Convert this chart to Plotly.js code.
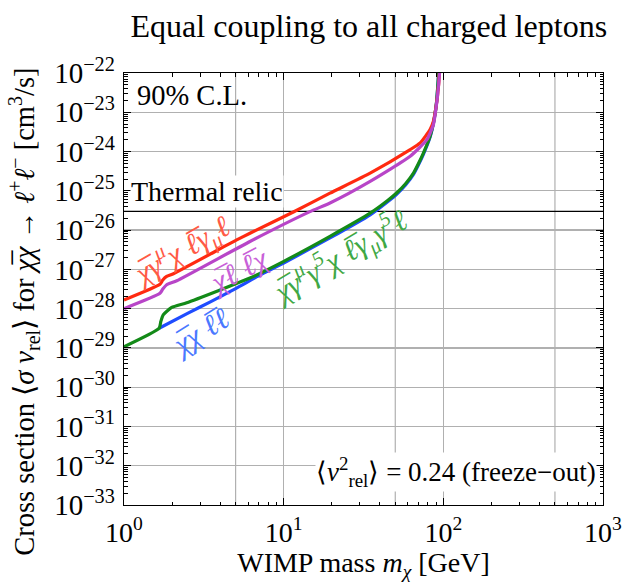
<!DOCTYPE html>
<html>
<head>
<meta charset="utf-8">
<script src="https://cdn.plot.ly/plotly-3.0.1.min.js"></script>
<style>html,body{margin:0;padding:0;background:#fff;}#chart{width:622px;height:582px;}</style>
</head>
<body>
<div id="chart"></div>
<script>
// WIMP mass [GeV] and cross sections [cm^3/s]
const massVector = [1.00, 1.68, 1.75, 1.85, 2.04, 5.08, 6.15, 11.5, 19.5, 34.8, 62.0, 71.6, 82.6, 86.7, 89.5, 92.1, 94.6, 95.3];
const sigmaVector = [1.66e-28, 4.17e-28, 5.37e-28, 6.61e-28, 7.76e-28, 5.62e-27, 8.32e-27, 2.88e-26, 8.71e-26, 2.82e-25, 1.12e-24, 1.66e-24, 3.63e-24, 5.89e-24, 1.17e-23, 2.82e-23, 9.77e-23, 2.24e-22];

const massScalarT = [1.00, 1.68, 1.75, 1.85, 2.14, 6.15, 14.6, 19.5, 34.8, 62.0, 78.9, 86.7, 89.5, 92.1, 94.6, 95.3];
const sigmaScalarT = [1.00e-28, 2.45e-28, 3.16e-28, 4.07e-28, 5.13e-28, 5.13e-27, 2.95e-26, 4.90e-26, 1.74e-25, 7.59e-25, 2.00e-24, 4.90e-24, 1.10e-23, 2.75e-23, 9.77e-23, 2.24e-22];

const massAxial = [1.00, 1.66, 1.70, 1.76, 1.99, 2.47, 6.15, 9.95, 19.5, 34.8, 45.0, 51.2, 58.0, 65.0, 70.0, 75.0, 82.6, 86.7, 89.5, 91.0, 93.5, 94.3];
const sigmaAxial = [1.07e-29, 3.16e-29, 4.68e-29, 6.92e-29, 1.07e-28, 1.41e-28, 6.03e-28, 1.58e-27, 6.92e-27, 2.69e-26, 5.75e-26, 8.91e-26, 1.51e-25, 2.82e-25, 5.01e-25, 9.12e-25, 2.45e-24, 5.37e-24, 1.17e-23, 2.09e-23, 1.00e-22, 2.24e-22];

const massScalar = [1.66, 2.5, 3.5, 5.0, 7.0, 10.0, 19.5, 34.8, 45.0, 51.2, 58.0, 65.0, 70.0, 75.0, 82.6, 86.7, 89.5, 91.0, 93.5, 94.3];
const sigmaScalar = [3.16e-29, 7.59e-29, 1.51e-28, 3.24e-28, 6.92e-28, 1.45e-27, 6.31e-27, 2.45e-26, 5.37e-26, 8.32e-26, 1.41e-25, 2.63e-25, 4.68e-25, 8.51e-25, 2.34e-24, 5.25e-24, 1.15e-23, 2.04e-23, 1.00e-22, 2.24e-22];

const thermalRelicMass = [1, 1000];
const thermalRelic = 3.0e-26;

// extra vertical grid lines (unlabelled) of the reference
const xGridExtra = [5, 50, 500];
const yFull = [1e-33, 1e-22];

const xTickVals = [1, 10, 100, 1000];
const xTickText = ['10<sup>0</sup>', '10<sup>1</sup>', '10<sup>2</sup>', '10<sup>3</sup>'];
const yExponents = [-33, -32, -31, -30, -29, -28, -27, -26, -25, -24, -23, -22];
const yTickVals = yExponents.map(e => Math.pow(10, e));
const yTickText = yExponents.map(e => '10<sup>\u2212' + Math.abs(e) + '</sup>');

const OL = '\u0305';
const FONT = '"Liberation Serif", "Times New Roman", serif';
const GRID = '#b0b0b0';

const colors = {red: '#ff2a10', magenta: '#b845c8', blue: '#1f4cff', green: '#138a18'};
const labelColors = {red: '#ff5a45', magenta: '#c860d8', blue: '#4a78ff', green: '#3fa845'};

function line(x, y, color, w) {
  return {x: x, y: y, type: 'scatter', mode: 'lines', line: {color: color, width: w, shape: 'spline', smoothing: 0.5}, hoverinfo: 'skip'};
}

const gx = [], gy = [];
xGridExtra.forEach(v => { gx.push(v, v, null); gy.push(yFull[0], yFull[1], null); });

const traces = [
  {x: gx, y: gy, type: 'scatter', mode: 'lines', line: {color: GRID, width: 1.2}, hoverinfo: 'skip', connectgaps: false},
  {x: thermalRelicMass, y: thermalRelicMass.map(() => thermalRelic), type: 'scatter', mode: 'lines', line: {color: '#000', width: 1.2}, hoverinfo: 'skip'},
  line(massScalar, sigmaScalar, colors.blue, 3.2),
  line(massAxial, sigmaAxial, colors.green, 3.2),
  line(massVector, sigmaVector, colors.red, 3.2),
  line(massScalarT, sigmaScalarT, colors.magenta, 3.2)
];

const W = 479, H = 431.5, L = 124, B = 505;
function px(xp) { return (xp - L) / W; }
function py(yp) { return (B - yp) / H; }

const yTitle = 'Cross section \u27e8<i>\u03c3 v</i><sub>rel</sub>\u27e9 for <i>\u03c7' + OL + '\u03c7</i> \u2192 <i>\u2113</i><sup>+</sup><i>\u2113</i><sup>\u2212</sup> [cm<sup>3</sup>/s]';

const annotations = [
  {text: yTitle, x: px(24), y: py(312), xref: 'paper', yref: 'paper', xanchor: 'center', yanchor: 'middle', textangle: -90, showarrow: false, font: {family: FONT, size: 28.5, color: '#000'}},
  {text: '90% C.L.', x: px(135), y: py(96), xref: 'paper', yref: 'paper', xanchor: 'left', yanchor: 'middle', showarrow: false, font: {family: FONT, size: 28.5, color: '#000'}},
  {text: 'Thermal relic', x: px(130), y: py(192), xref: 'paper', yref: 'paper', xanchor: 'left', yanchor: 'middle', showarrow: false, bgcolor: '#fff', borderpad: 0, font: {family: FONT, size: 28, color: '#000'}},
  {text: '\u27e8<i>v</i><sup>2</sup><sub>rel</sub>\u27e9 = 0.24 (freeze\u2212out)', x: px(597), y: py(472), xref: 'paper', yref: 'paper', xanchor: 'right', yanchor: 'middle', showarrow: false, bgcolor: '#fff', borderpad: 0, font: {family: FONT, size: 27, color: '#000'}},
  {text: '<i>\u03c7' + OL + '\u03b3<sup>\u03bc</sup>\u03c7 \u2113' + OL + '\u03b3<sub>\u03bc</sub>\u2113</i>', x: px(181), y: py(251), xref: 'paper', yref: 'paper', xanchor: 'center', yanchor: 'middle', textangle: -30, showarrow: false, font: {family: FONT, size: 30, color: labelColors.red}},
  {text: '<i>\u03c7' + OL + '\u2113 \u2113' + OL + '\u03c7</i>', x: px(238), y: py(271), xref: 'paper', yref: 'paper', xanchor: 'center', yanchor: 'middle', textangle: -28, showarrow: false, font: {family: FONT, size: 30, color: labelColors.magenta}},
  {text: '<i>\u03c7' + OL + '\u03c7 \u2113' + OL + '\u2113</i>', x: px(200), y: py(332), xref: 'paper', yref: 'paper', xanchor: 'center', yanchor: 'middle', textangle: -32, showarrow: false, font: {family: FONT, size: 30, color: labelColors.blue}},
  {text: '<i>\u03c7' + OL + '\u03b3<sup>\u03bc</sup>\u03b3<sup>5</sup>\u03c7 \u2113' + OL + '\u03b3<sub>\u03bc</sub>\u03b3<sup>5</sup>\u2113</i>', x: px(340), y: py(257), xref: 'paper', yref: 'paper', xanchor: 'center', yanchor: 'middle', textangle: -31, showarrow: false, font: {family: FONT, size: 30, color: labelColors.green}}
];

const axisCommon = {
  type: 'log',
  showline: true, linecolor: '#000', linewidth: 1.3, mirror: 'allticks',
  ticks: 'inside', ticklen: 7, tickcolor: '#000', tickwidth: 1,
  showgrid: true, gridcolor: GRID, gridwidth: 1.2,
  zeroline: false,
  tickfont: {family: FONT, size: 29, color: '#000'},
  minor: {ticks: 'inside', ticklen: 3.5, tickcolor: '#000', tickwidth: 1, dtick: 'D1', showgrid: false},
  tickmode: 'array',
  ticklabeloverflow: 'allow'
};

const layout = {
  width: 622, height: 582,
  margin: {l: 124, r: 19, t: 73, b: 77, pad: 0},
  paper_bgcolor: '#fff', plot_bgcolor: '#fff',
  showlegend: false, hovermode: false,
  title: {text: 'Equal coupling to all charged leptons', x: 0.593, xanchor: 'center', y: 0.955, yanchor: 'middle', font: {family: FONT, size: 32, color: '#000'}},
  xaxis: Object.assign({}, axisCommon, {
    range: [0, 3], tickvals: xTickVals, ticktext: xTickText, ticklabelstandoff: 2,
    tickfont: {family: FONT, size: 28, color: '#000'},
    title: {text: 'WIMP mass <i>m</i><sub><i>\u03c7</i></sub> [GeV]', font: {family: FONT, size: 28, color: '#000'}, standoff: 4}
  }),
  yaxis: Object.assign({}, axisCommon, {
    range: [-33, -22], tickvals: yTickVals, ticktext: yTickText, ticklabelstandoff: 2
  }),
  annotations: annotations
};

Plotly.newPlot('chart', traces, layout, {displayModeBar: false, staticPlot: true});
</script>
</body>
</html>
